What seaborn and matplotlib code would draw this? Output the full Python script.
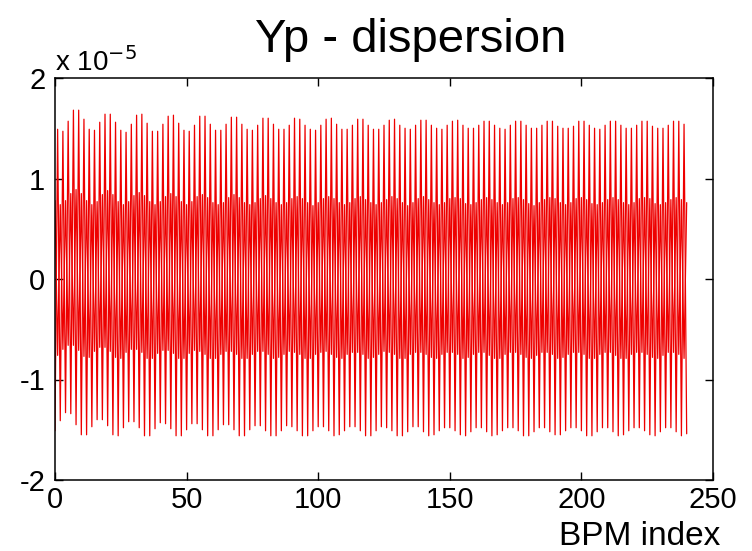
import numpy as np
import pandas as pd
import matplotlib
matplotlib.use("Agg")
import matplotlib.pyplot as plt
import seaborn as sns

# ---- data (units of 1e-5) ----
# outer series: values at odd BPM index (upper spikes)
outer_top = [
    1.49, 1.47, 1.57, 1.68, 1.68, 1.59,
    1.49, 1.48, 1.56, 1.64, 1.64, 1.56,
    1.48, 1.46, 1.54, 1.63, 1.64, 1.55,
    1.47, 1.47, 1.54, 1.62, 1.63, 1.55,
    1.48, 1.47, 1.53, 1.62, 1.62, 1.54,
    1.48, 1.48, 1.54, 1.61, 1.61, 1.54,
    1.49, 1.48, 1.53, 1.60, 1.60, 1.54,
    1.49, 1.49, 1.53, 1.60, 1.59, 1.53,
    1.49, 1.48, 1.53, 1.59, 1.60, 1.54,
    1.49, 1.49, 1.53, 1.59, 1.59, 1.53,
    1.49, 1.49, 1.53, 1.58, 1.59, 1.53,
    1.50, 1.49, 1.53, 1.58, 1.58, 1.53,
    1.50, 1.49, 1.53, 1.57, 1.58, 1.53,
    1.50, 1.50, 1.53, 1.57, 1.57, 1.53,
    1.50, 1.49, 1.53, 1.57, 1.57, 1.53,
    1.50, 1.50, 1.53, 1.57, 1.57, 1.52,
    1.50, 1.50, 1.52, 1.57, 1.57, 1.53,
    1.50, 1.49, 1.53, 1.57, 1.57, 1.53,
    1.50, 1.50, 1.53, 1.57, 1.57, 1.52,
    1.50, 1.50, 1.53, 1.57, 1.57, 1.54,
]
# outer series: values at even BPM index (lower spikes)
outer_bottom = [
    -1.51, -1.41, -1.33, -1.34, -1.45, -1.55,
    -1.55, -1.47, -1.40, -1.40, -1.46, -1.55,
    -1.56, -1.48, -1.42, -1.42, -1.48, -1.56,
    -1.56, -1.49, -1.43, -1.44, -1.49, -1.56,
    -1.56, -1.50, -1.44, -1.44, -1.50, -1.56,
    -1.56, -1.50, -1.45, -1.45, -1.50, -1.56,
    -1.56, -1.50, -1.46, -1.46, -1.51, -1.56,
    -1.56, -1.51, -1.46, -1.47, -1.51, -1.56,
    -1.56, -1.51, -1.47, -1.47, -1.51, -1.56,
    -1.55, -1.51, -1.47, -1.47, -1.51, -1.56,
    -1.56, -1.51, -1.47, -1.48, -1.51, -1.56,
    -1.56, -1.52, -1.47, -1.47, -1.52, -1.56,
    -1.55, -1.51, -1.48, -1.48, -1.51, -1.55,
    -1.56, -1.52, -1.48, -1.48, -1.52, -1.56,
    -1.55, -1.51, -1.48, -1.48, -1.51, -1.56,
    -1.56, -1.52, -1.48, -1.48, -1.52, -1.55,
    -1.55, -1.51, -1.48, -1.48, -1.51, -1.56,
    -1.56, -1.52, -1.48, -1.48, -1.52, -1.56,
    -1.55, -1.51, -1.48, -1.48, -1.51, -1.55,
    -1.56, -1.52, -1.48, -1.48, -1.52, -1.56,
    -1.54,
]
# inner series: values at even BPM index (upper edge of dense band)
inner_top = [
    0.78, 0.74, 0.78, 0.85, 0.89, 0.85,
    0.78, 0.74, 0.77, 0.84, 0.88, 0.84,
    0.77, 0.74, 0.77, 0.83, 0.86, 0.83,
    0.77, 0.74, 0.77, 0.82, 0.85, 0.82,
    0.77, 0.74, 0.77, 0.82, 0.84, 0.81,
    0.76, 0.74, 0.76, 0.81, 0.84, 0.81,
    0.76, 0.74, 0.76, 0.80, 0.83, 0.80,
    0.76, 0.74, 0.76, 0.80, 0.82, 0.80,
    0.76, 0.73, 0.76, 0.80, 0.82, 0.80,
    0.76, 0.74, 0.76, 0.80, 0.82, 0.79,
    0.76, 0.74, 0.76, 0.79, 0.82, 0.80,
    0.76, 0.73, 0.76, 0.80, 0.82, 0.79,
    0.76, 0.74, 0.76, 0.80, 0.81, 0.80,
    0.75, 0.74, 0.76, 0.79, 0.81, 0.79,
    0.76, 0.74, 0.76, 0.80, 0.81, 0.79,
    0.75, 0.73, 0.76, 0.79, 0.81, 0.80,
    0.76, 0.74, 0.76, 0.80, 0.81, 0.79,
    0.75, 0.74, 0.76, 0.79, 0.81, 0.79,
    0.76, 0.74, 0.76, 0.80, 0.81, 0.80,
    0.75, 0.74, 0.76, 0.79, 0.81, 0.79,
    0.76,
]
# inner series: values at odd BPM index (lower edge of dense band)
inner_bottom = [
    -0.76, -0.70, -0.66, -0.66, -0.71, -0.77,
    -0.78, -0.72, -0.68, -0.68, -0.72, -0.78,
    -0.79, -0.73, -0.70, -0.70, -0.73, -0.79,
    -0.79, -0.74, -0.71, -0.71, -0.74, -0.79,
    -0.79, -0.74, -0.71, -0.72, -0.75, -0.79,
    -0.79, -0.75, -0.72, -0.72, -0.75, -0.79,
    -0.79, -0.75, -0.72, -0.72, -0.75, -0.79,
    -0.78, -0.75, -0.72, -0.73, -0.75, -0.79,
    -0.79, -0.75, -0.73, -0.72, -0.75, -0.78,
    -0.79, -0.75, -0.73, -0.73, -0.75, -0.79,
    -0.78, -0.75, -0.72, -0.73, -0.75, -0.79,
    -0.79, -0.75, -0.73, -0.73, -0.75, -0.78,
    -0.79, -0.75, -0.73, -0.73, -0.75, -0.79,
    -0.78, -0.75, -0.73, -0.73, -0.76, -0.79,
    -0.79, -0.75, -0.73, -0.73, -0.75, -0.78,
    -0.79, -0.76, -0.73, -0.73, -0.75, -0.79,
    -0.78, -0.75, -0.73, -0.73, -0.75, -0.79,
    -0.79, -0.75, -0.73, -0.73, -0.76, -0.79,
    -0.79, -0.75, -0.73, -0.73, -0.75, -0.78,
    -0.79, -0.76, -0.73, -0.73, -0.75, -0.79,
]

x_ticks = [0, 50, 100, 150, 200, 250]
y_ticks = [-2, -1, 0, 1, 2]
title = "Yp - dispersion"
xlabel = "BPM index"

# ---- assemble ----
n = len(outer_bottom) + len(outer_top)
outer = np.empty(n)
outer[0::2] = outer_bottom
outer[1::2] = outer_top
inner = np.empty(n)
inner[0::2] = inner_top
inner[1::2] = inner_bottom
idx = np.arange(n)
df = pd.DataFrame({
    "bpm": np.concatenate([idx, idx]),
    "yp": np.concatenate([outer, inner]),
    "trace": ["outer"] * n + ["inner"] * n,
})

sns.set_theme(style="white")
plt.rcParams["font.family"] = ["Liberation Sans", "DejaVu Sans"]

fig = plt.figure(figsize=(7.52, 5.51), dpi=100)
ax = fig.add_axes([55 / 752, 1 - 480 / 551, (713 - 55) / 752, (480 - 78) / 551])

sns.lineplot(data=df, x="bpm", y="yp", units="trace", estimator=None,
             sort=False, color="#ee0000", lw=0.9, ax=ax, legend=False)

ax.set_xlim(0, 250)
ax.set_ylim(-2, 2)
ax.set_xticks(x_ticks)
ax.set_yticks(y_ticks)
ax.set_xticklabels([str(v) for v in x_ticks])
ax.set_yticklabels([str(v) for v in y_ticks])
ax.set_xlabel("")
ax.set_ylabel("")
for s in ax.spines.values():
    s.set_visible(True)
    s.set_color("black")
    s.set_linewidth(1.1)
ax.tick_params(axis="both", which="both", direction="in", length=6, width=1.0,
               top=True, right=True, bottom=True, left=True,
               labelsize=21, colors="black")
ax.tick_params(axis="x", pad=4)
ax.tick_params(axis="y", pad=7)
ax.grid(False)

fig.text(411 / 752, 1 - 52 / 551, title, ha="center", va="baseline",
         fontsize=34, color="black")
fig.text(720 / 752, 1 - 545 / 551, xlabel, ha="right", va="baseline",
         fontsize=24, color="black")
fig.text(55 / 752, 1 - 71 / 551, r"x 10$^{-5}$", ha="left", va="baseline",
         fontsize=20, color="black")

fig.savefig("out.png", dpi=100, facecolor="white")
